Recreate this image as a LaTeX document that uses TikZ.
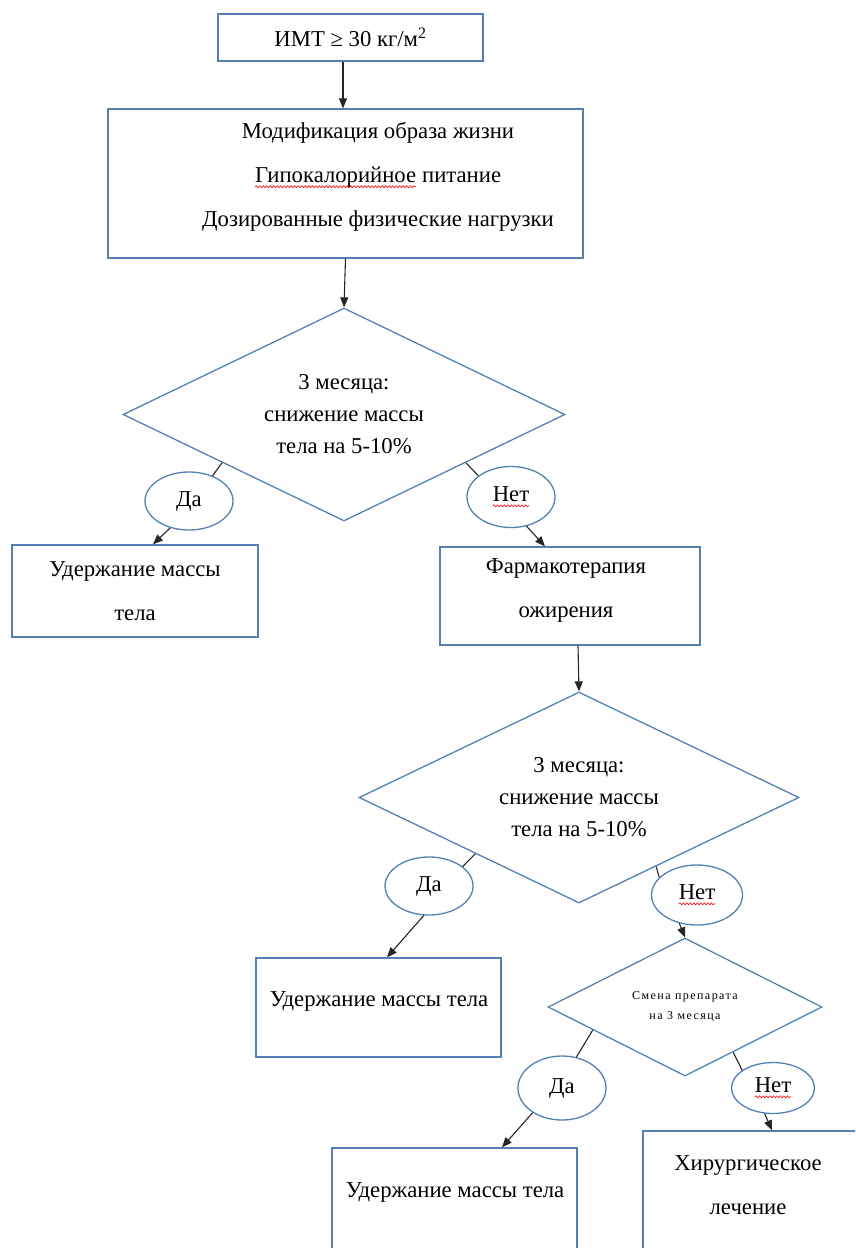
\documentclass[tikz,border=0pt]{standalone}
\usepackage{fontspec}
\setmainfont{Liberation Serif}
\usetikzlibrary{arrows.meta,shapes.geometric,calc,decorations.pathmorphing}
\definecolor{shapeblue}{RGB}{84,128,182}
% red wavy spell-check mark under a word
\newcommand{\spellmark}[1]{\tikz[baseline=(sw.base)]{\node[shape=rectangle,draw=none,inner sep=0pt,outer sep=0pt,
      minimum width=0pt,minimum height=0pt] (sw) {#1};
    \draw[red,line width=0.6pt,decorate,decoration={snake,amplitude=1pt,segment length=3.5pt}]
      ([yshift=-4pt]sw.base west) -- ([yshift=-4pt]sw.base east);}}

\begin{document}
\begin{tikzpicture}[x=1pt,y=-1pt,
    box/.style={draw=shapeblue,line width=1.3pt,align=center,inner sep=0pt},
    rhomb/.style={diamond,draw=shapeblue,line width=1.3pt,aspect=2,inner sep=0pt,align=center,
      font=\fontsize{22.7}{32}\selectfont},
    answer/.style={ellipse,draw=shapeblue,line width=1.3pt,inner sep=0pt},
    link/.style={line width=1.1pt,black!85},
    arr/.style={link,-{Triangle[length=10pt,width=8pt]}},
    font=\fontsize{22.7}{44}\selectfont]
    \useasboundingbox (0,0) rectangle (855,1248);
    \clip (0,0) rectangle (855,1248);

    % Start: body mass index
    \node[box,minimum width=265,minimum height=47] (imt) at (350.5,37.5)
      {ИМТ ≥ 30 кг/м\textsuperscript{2}};

    % Lifestyle changes
    \node[box,minimum width=475,minimum height=149] (life) at (345.5,183.5) {};
    \node[align=center,inner sep=0pt] (lifetxt) at (378,177)
      {Модификация образа жизни\\ \spellmark{Гипокалорийное} питание\\ Дозированные физические нагрузки};

    % First check after 3 months
    \node[rhomb,minimum width=442,minimum height=213] (q1) at (344,414.5)
      {3 месяца:\\снижение массы\\тела на 5-10\%};
    \node[answer,minimum width=88,minimum height=58] (yes1) at (189,501) {Да};
    \node[answer,minimum width=88,minimum height=61] (no1) at (511,497) {\spellmark{Нет}};
    \node[box,minimum width=246,minimum height=92] (keep1) at (135,591)
      {Удержание массы\\тела};
    \node[box,minimum width=260,minimum height=98] (pharm) at (570,596) {};
    \node[align=center,inner sep=0pt] (pharmtxt) at (566,590) {Фармакотерапия\\ожирения};

    % Second check after 3 months
    \node[rhomb,minimum width=440,minimum height=211] (q2) at (579,797.5)
      {3 месяца:\\снижение массы\\тела на 5-10\%};
    \node[answer,minimum width=88,minimum height=58] (yes2) at (429,886) {Да};
    \node[answer,minimum width=91,minimum height=60] (no2) at (697,895) {\spellmark{Нет}};
    \node[box,minimum width=245,minimum height=99] (keep2) at (378.5,1007.5) {};
    \node[inner sep=0pt] (keep2txt) at (379,1001) {Удержание массы тела};

    % Change of drug
    \node[rhomb,minimum width=274,minimum height=138,font=\fontsize{12}{20}\selectfont\addfontfeatures{LetterSpace=12}]
      (q3) at (685,1007) {Смена препарата\\на 3 месяца};
    \node[answer,minimum width=88,minimum height=64] (yes3) at (562,1088) {Да};
    \node[answer,minimum width=83,minimum height=51] (no3) at (773,1088) {\spellmark{Нет}};
    \node[box,minimum width=245,minimum height=120] (keep3) at (454.5,1208) {};
    \node[inner sep=0pt] (keep3txt) at (455,1192) {Удержание массы тела};
    \node[box,minimum width=220,minimum height=140] (surg) at (753,1201) {};
    \node[align=center,inner sep=0pt] (surgtxt) at (748,1185) {Хирургическое\\лечение};

    % Connectors
    \draw[arr] (imt.south -| 343,0) -- (life.north -| 343,0);
    \draw[arr] (life.south) -- (q1.north);
    \draw[link] ($(q1.west)!0.45!(q1.south)$) -- (yes1.47);
    \draw[link] ($(q1.south)!0.55!(q1.east)$) -- (no1.147);
    \draw[arr] (yes1.-125) -- (keep1.north -| 153,0);
    \draw[arr] (no1.-62) -- (pharm.north -| 545,0);
    \draw[arr] (pharm.south -| 578,0) -- (q2.north);
    \draw[link] ($(q2.west)!0.53!(q2.south)$) -- (yes2.30);
    \draw[link] ($(q2.south)!0.35!(q2.east)$) -- (no2.155);
    \draw[arr] (yes2.-100) -- (keep2.north -| 387,0);
    \draw[arr] (no2.-122) -- (q3.north);
    \draw[link] ($(q3.west)!0.33!(q3.south)$) -- (yes3.65);
    \draw[link] ($(q3.south)!0.35!(q3.east)$) -- (no3.150);
    \draw[arr] (yes3.-140) -- (keep3.north -| 502,0);
    \draw[arr] (no3.-108) -- (surg.north -| 772,0);
\end{tikzpicture}
\end{document}
